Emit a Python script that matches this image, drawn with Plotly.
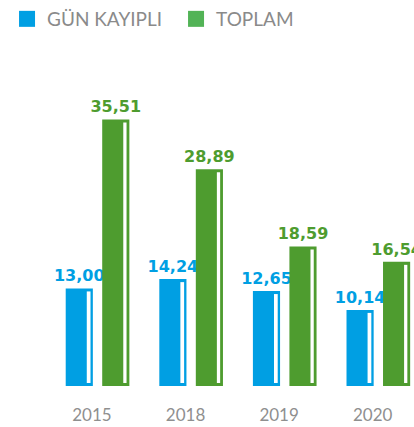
import plotly.graph_objects as go

years = ["2015", "2018", "2019", "2020"]
gun_kayipli = [13.00, 14.24, 12.65, 10.14]
toplam = [35.51, 28.89, 18.59, 16.54]
series_names = ["GÜN KAYIPLI", "TOPLAM"]

BLUE = "#009FE3"
GREEN = "#4E9C2F"
LEG_BLUE = "#009FE3"
LEG_GREEN = "#52B356"

def fmt(v):
    return f"{v:.2f}".replace(".", ",")

xs = list(range(len(years)))
inset = 0.4  # white highlight inset (data units)

fig = go.Figure()
fig.add_trace(go.Bar(
    x=xs, y=gun_kayipli, name=series_names[0], legendgroup="a", showlegend=False,
    offset=-0.34, width=0.29,
    marker=dict(color=BLUE, line=dict(width=0)),
    text=[fmt(v) for v in gun_kayipli], textposition="outside", constraintext="none",
    textfont=dict(family="DejaVu Sans", size=16, color=BLUE, weight="bold"),
    cliponaxis=False,
))
fig.add_trace(go.Bar(
    x=xs, y=toplam, name=series_names[1], legendgroup="b", showlegend=False,
    offset=0.05, width=0.29,
    marker=dict(color=GREEN, line=dict(width=0)),
    text=[fmt(v) for v in toplam], textposition="outside", constraintext="none",
    textfont=dict(family="DejaVu Sans", size=16, color=GREEN, weight="bold"),
    cliponaxis=False,
))
# white highlight stripes
fig.add_trace(go.Bar(
    x=xs, y=[v - 2 * inset for v in gun_kayipli], base=inset,
    offset=-0.115, width=0.04, showlegend=False, hoverinfo="skip",
    marker=dict(color="white", line=dict(width=0)),
))
fig.add_trace(go.Bar(
    x=xs, y=[v - 2 * inset for v in toplam], base=inset,
    offset=0.275, width=0.035, showlegend=False, hoverinfo="skip",
    marker=dict(color="white", line=dict(width=0)),
))
# legend entries (larger square swatches)
for nm, col, grp in [(series_names[0], LEG_BLUE, "a"), (series_names[1], LEG_GREEN, "b")]:
    fig.add_trace(go.Scatter(
        x=[None], y=[None], mode="markers", name=nm, legendgroup=grp,
        marker=dict(symbol="square", size=20, color=col, line=dict(width=0)),
        hoverinfo="skip",
    ))

fig.update_layout(
    width=414, height=427,
    margin=dict(l=0, r=0, t=40, b=41),
    paper_bgcolor="white", plot_bgcolor="white",
    barmode="overlay",
    showlegend=True,
    legend=dict(
        orientation="h", x=0.017, xref="container", y=1.0, yref="container",
        xanchor="left", yanchor="top",
        font=dict(family="Lato", size=19, color="#8a8a8a"),
        itemwidth=30, itemsizing="trace", traceorder="normal",
        entrywidth=124,
    ),
    xaxis=dict(
        range=[-1.042, 3.381], tickmode="array", tickvals=[x - 0.06 for x in xs], ticktext=years,
        showgrid=False, zeroline=False, showline=False, ticks="",
        tickfont=dict(family="Lato", size=17, color="#8f8f8f"),
        ticklabelstandoff=17, fixedrange=True,
    ),
    yaxis=dict(range=[0, 46.1], visible=False, showgrid=False, zeroline=False, fixedrange=True),
)

fig.write_html("out.html")
